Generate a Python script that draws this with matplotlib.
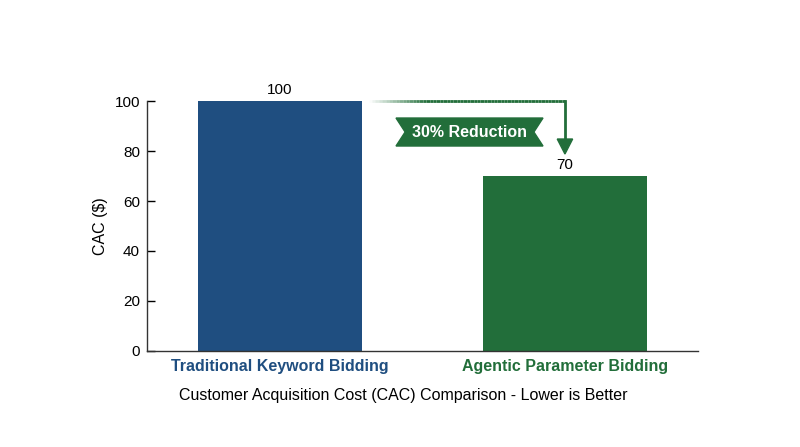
import matplotlib
matplotlib.use("Agg")
import matplotlib.pyplot as plt
from matplotlib.patches import Polygon
from matplotlib.collections import LineCollection
import numpy as np

plt.rcParams["font.family"] = ["Liberation Sans", "DejaVu Sans"]

# --- data ---
categories = ["Traditional Keyword Bidding", "Agentic Parameter Bidding"]
cac_values = [100, 70]
reduction_label = "30% Reduction"

bar_colors = ["#1f4e80", "#226e3a"]
green = "#226e3a"
bar_width = 0.575

fig = plt.figure(figsize=(8, 4.47), dpi=100)
ax = fig.add_axes([0.18375, 0.2148, 0.68875, 0.5592])

x = np.arange(len(categories))
bars = ax.bar(x, cac_values, width=bar_width, color=bar_colors)

for xi, v in zip(x, cac_values):
    ax.text(xi, v + 1.6, str(v), ha="center", va="bottom", fontsize=11, color="black")

ax.set_xlim(-0.467, 1.467)
ax.set_ylim(0, 100)
ax.set_yticks([0, 20, 40, 60, 80, 100])
ax.set_xticks(x)
ax.set_xticklabels(categories, fontsize=11.5, fontweight="bold")
for lbl, c in zip(ax.get_xticklabels(), bar_colors):
    lbl.set_color(c)
ax.tick_params(axis="x", length=0, pad=6)
ax.tick_params(axis="y", direction="in", length=6, width=1, labelsize=11, pad=5)

for s in ["top", "right"]:
    ax.spines[s].set_visible(False)
for s in ["left", "bottom"]:
    ax.spines[s].set_color("#333333")
    ax.spines[s].set_linewidth(1)

ax.set_ylabel("CAC ($)", fontsize=11.5, labelpad=5)
fig.text(0.5045, 0.1163, "Customer Acquisition Cost (CAC) Comparison - Lower is Better",
         ha="center", va="center", fontsize=11.5)

# --- arrow from first bar top to second bar ---
x_start = x[0] + bar_width / 2
x_end = x[1]
y_top = cac_values[0]
n = 60
xs = np.linspace(x_start, x_end, n + 1)
segs = [[(xs[i], y_top), (xs[i + 1], y_top)] for i in range(n)]
fade_len = 0.2
alphas = np.clip((xs[:-1] - x_start - 0.02) / fade_len, 0, 1)
rgba = [matplotlib.colors.to_rgba(green, a) for a in alphas]
lc = LineCollection(segs, colors=rgba, linewidths=2, clip_on=False, capstyle="butt")
ax.add_collection(lc)

tip_y = cac_values[1] + 8.8
head_h = 6
ax.plot([x_end, x_end], [y_top, tip_y + head_h], color=green, lw=2, clip_on=False,
        solid_capstyle="projecting")
hw = 0.027
ax.add_patch(Polygon([(x_end - hw, tip_y + head_h), (x_end + hw, tip_y + head_h), (x_end, tip_y)],
                     closed=True, color=green, clip_on=False))

# --- ribbon banner ---
bx0, bx1 = 0.407, 0.923
by0, by1 = 82, 93.2
notch = 0.032
ym = (by0 + by1) / 2
ax.add_patch(Polygon([(bx0, by1), (bx1, by1), (bx1 - notch, ym), (bx1, by0),
                      (bx0, by0), (bx0 + notch, ym)], closed=True, color=green))
ax.text((bx0 + bx1) / 2, ym, reduction_label, ha="center", va="center",
        fontsize=11.5, fontweight="bold", color="white")

fig.savefig("out.png", dpi=100)
